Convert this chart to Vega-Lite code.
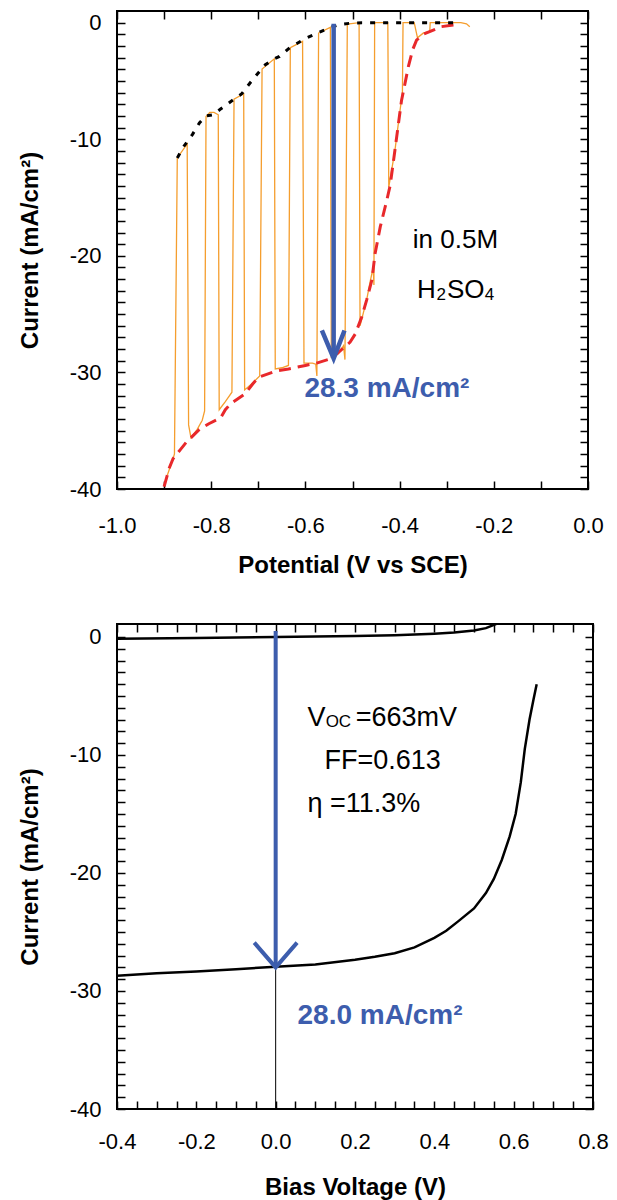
{
  "$schema": "https://vega.github.io/schema/vega-lite/v6.json",
  "padding": {"left": 17, "top": 9, "right": 0, "bottom": 0},
  "autosize": {"type": "pad"},
  "columns": 1,
  "align": "none",
  "spacing": 44,
  "config": {
    "font": "Liberation Sans",
    "view": {"stroke": "black", "strokeWidth": 2},
    "axis": {
      "domain": false, "grid": false, "tickColor": "black", "tickWidth": 1.5, "tickSize": -8,
      "labelFont": "Liberation Sans", "labelFontSize": 22, "labelColor": "black", "labelFlush": false, "labelOverlap": false,
      "titleFont": "Liberation Sans", "titleFontSize": 24, "titleFontWeight": "bold", "titleColor": "black"
    }
  },
  "datasets": {
    "orange": [
      {"v":-0.893,"j":-38.8},{"v":-0.881,"j":-37.4},{"v":-0.878,"j":-37.0},{"v":-0.872,"j":-11.6},{"v":-0.851,"j":-10.4},
      {"v":-0.848,"j":-34.5},{"v":-0.843,"j":-35.6},{"v":-0.830,"j":-34.9},{"v":-0.819,"j":-34.1},{"v":-0.814,"j":-33.3},
      {"v":-0.811,"j":-8.05},{"v":-0.803,"j":-7.7},{"v":-0.794,"j":-7.7},{"v":-0.785,"j":-7.9},
      {"v":-0.783,"j":-33.2},{"v":-0.770,"j":-32.5},{"v":-0.756,"j":-31.7},{"v":-0.7515,"j":-6.56},{"v":-0.731,"j":-6.1},
      {"v":-0.729,"j":-31.5},{"v":-0.712,"j":-30.9},{"v":-0.697,"j":-30.3},{"v":-0.692,"j":-3.97},{"v":-0.666,"j":-3.1},
      {"v":-0.664,"j":-29.7},{"v":-0.650,"j":-29.6},{"v":-0.636,"j":-29.4},{"v":-0.632,"j":-2.14},{"v":-0.606,"j":-1.6},
      {"v":-0.603,"j":-29.2},{"v":-0.585,"j":-29.2},{"v":-0.578,"j":-29.3},{"v":-0.5756,"j":-30.3},{"v":-0.572,"j":-0.89},{"v":-0.547,"j":-0.4},
      {"v":-0.545,"j":-28.7},{"v":-0.530,"j":-28.4},{"v":-0.519,"j":-27.7},{"v":-0.516,"j":-28.9},{"v":-0.511,"j":-0.12},{"v":-0.486,"j":0.0},
      {"v":-0.484,"j":-26.0},{"v":-0.470,"j":-23.8},{"v":-0.462,"j":-22.1},{"v":-0.456,"j":-21.0},{"v":-0.4545,"j":-22.5},{"v":-0.453,"j":0.0},{"v":-0.425,"j":0.0},
      {"v":-0.423,"j":-14.1},{"v":-0.410,"j":-11.0},{"v":-0.400,"j":-7.8},{"v":-0.394,"j":-6.0},{"v":-0.3927,"j":0.0},{"v":-0.369,"j":0.0},
      {"v":-0.362,"j":-1.3},{"v":-0.350,"j":-0.9},{"v":-0.336,"j":-0.75},{"v":-0.335,"j":0.0},{"v":-0.300,"j":0.0},{"v":-0.270,"j":0.0},{"v":-0.258,"j":-0.1},{"v":-0.251,"j":-0.35}
    ],
    "red": [
      {"v":-0.900,"j":-39.8},{"v":-0.889,"j":-38.2},{"v":-0.881,"j":-37.4},{"v":-0.865,"j":-36.6},{"v":-0.847,"j":-35.7},{"v":-0.843,"j":-35.6},
      {"v":-0.825,"j":-34.9},{"v":-0.805,"j":-34.4},{"v":-0.780,"j":-33.9},{"v":-0.770,"j":-33.2},{"v":-0.759,"j":-32.7},{"v":-0.727,"j":-31.8},
      {"v":-0.712,"j":-31.0},{"v":-0.699,"j":-30.4},{"v":-0.664,"j":-29.9},{"v":-0.636,"j":-29.7},{"v":-0.600,"j":-29.4},{"v":-0.576,"j":-29.2},
      {"v":-0.552,"j":-28.9},{"v":-0.540,"j":-28.65},{"v":-0.519,"j":-27.9},{"v":-0.505,"j":-27.4},{"v":-0.494,"j":-26.7},{"v":-0.480,"j":-25.2},
      {"v":-0.470,"j":-23.8},{"v":-0.459,"j":-22.1},{"v":-0.452,"j":-19.8},{"v":-0.441,"j":-17.5},{"v":-0.427,"j":-15.2},{"v":-0.420,"j":-13.96},
      {"v":-0.410,"j":-10.96},{"v":-0.396,"j":-6.7},{"v":-0.381,"j":-3.7},{"v":-0.372,"j":-2.3},{"v":-0.364,"j":-1.5},{"v":-0.350,"j":-1.0},
      {"v":-0.335,"j":-0.74},{"v":-0.311,"j":-0.34},{"v":-0.290,"j":-0.22},{"v":-0.275,"j":-0.17}
    ],
    "dot": [
      {"v":-0.872,"j":-11.6},{"v":-0.858,"j":-10.6},{"v":-0.840,"j":-9.6},{"v":-0.825,"j":-8.6},{"v":-0.811,"j":-8.0},{"v":-0.795,"j":-7.9},
      {"v":-0.780,"j":-7.4},{"v":-0.751,"j":-6.55},{"v":-0.735,"j":-6.1},{"v":-0.720,"j":-5.3},{"v":-0.706,"j":-4.6},{"v":-0.685,"j":-3.6},
      {"v":-0.666,"j":-3.1},{"v":-0.655,"j":-2.9},{"v":-0.632,"j":-2.1},{"v":-0.610,"j":-1.6},{"v":-0.597,"j":-1.3},{"v":-0.572,"j":-0.85},
      {"v":-0.547,"j":-0.4},{"v":-0.525,"j":-0.15},{"v":-0.505,"j":-0.05},{"v":-0.480,"j":0.0},{"v":-0.275,"j":0.0}
    ],
    "arrowTop": [
      {"p":"s","v":-0.540,"j":-0.1},{"p":"s","v":-0.540,"j":-28.6},
      {"p":"h","v":-0.565,"j":-26.4},{"p":"h","v":-0.540,"j":-28.8},{"p":"h","v":-0.517,"j":-26.4}
    ],
    "light": [
      {"v":-0.4,"j":-28.7},{"v":-0.3,"j":-28.5},{"v":-0.2,"j":-28.35},{"v":-0.1,"j":-28.15},{"v":0.0,"j":-27.95},{"v":0.1,"j":-27.75},
      {"v":0.2,"j":-27.35},{"v":0.25,"j":-27.1},{"v":0.3,"j":-26.8},{"v":0.35,"j":-26.3},{"v":0.4,"j":-25.5},{"v":0.43,"j":-24.9},
      {"v":0.46,"j":-24.1},{"v":0.5,"j":-23.0},{"v":0.53,"j":-21.7},{"v":0.55,"j":-20.5},{"v":0.57,"j":-18.9},{"v":0.59,"j":-16.9},
      {"v":0.605,"j":-15.0},{"v":0.618,"j":-12.3},{"v":0.628,"j":-9.5},{"v":0.64,"j":-7.0},{"v":0.65,"j":-5.3},{"v":0.658,"j":-4.0}
    ],
    "dark": [
      {"v":-0.4,"j":-0.15},{"v":-0.2,"j":-0.08},{"v":0.0,"j":0.0},{"v":0.2,"j":0.08},{"v":0.3,"j":0.15},{"v":0.4,"j":0.28},
      {"v":0.45,"j":0.38},{"v":0.5,"j":0.55},{"v":0.53,"j":0.75},{"v":0.56,"j":1.15}
    ],
    "arrowBot": [
      {"p":"s","v":0.0,"j":0.5},{"p":"s","v":0.0,"j":-27.8},
      {"p":"h","v":-0.054,"j":-25.9},{"p":"h","v":0.0,"j":-28.0},{"p":"h","v":0.054,"j":-25.9}
    ],
    "thin": [{"v":0.0,"j":-28.0},{"v":0.0,"j":-40.0}]
  },
  "concat": [
    {
      "width": 471, "height": 478,
      "resolve": {"axis": {"x": "independent", "y": "independent"}},
      "layer": [
        {
          "data": {"name": "orange"},
          "mark": {"type": "line", "color": "#F59E2E", "strokeWidth": 1.3, "clip": true},
          "encoding": {
            "x": {"field": "v", "type": "quantitative", "scale": {"domain": [-1, 0], "nice": false, "zero": false},
              "axis": {"orient": "bottom", "values": [-1,-0.9,-0.8,-0.7,-0.6,-0.5,-0.4,-0.3,-0.2,-0.1,0],
                "labelExpr": "abs(round(datum.value*10)) % 2 == 0 ? replace(format(datum.value, '.1f'), '−', '-') : ''",
                "labelPadding": 34, "titlePadding": 17}, "title": "Potential (V vs SCE)"},
            "y": {"field": "j", "type": "quantitative", "scale": {"domain": [-40, 1], "nice": false, "zero": false},
              "axis": {"orient": "left", "values": [-40,-39,-38,-37,-36,-35,-34,-33,-32,-31,-30,-29,-28,-27,-26,-25,-24,-23,-22,-21,-20,-19,-18,-17,-16,-15,-14,-13,-12,-11,-10,-9,-8,-7,-6,-5,-4,-3,-2,-1,0],
                "labelExpr": "datum.value % 10 == 0 ? '' + datum.value : ''", "labelPadding": 24, "titlePadding": 27}, "title": "Current (mA/cm²)"},
            "order": {"value": null}
          }
        },
        {
          "data": {"name": "red"},
          "mark": {"type": "line", "color": "#E8282B", "strokeWidth": 3, "strokeDash": [12, 7], "clip": true},
          "encoding": {
            "x": {"field": "v", "type": "quantitative", "scale": {"domain": [-1, 0], "nice": false, "zero": false},
              "axis": {"orient": "top", "labels": false, "title": null, "values": [-1,-0.9,-0.8,-0.7,-0.6,-0.5,-0.4,-0.3,-0.2,-0.1,0]}},
            "y": {"field": "j", "type": "quantitative", "scale": {"domain": [-40, 1], "nice": false, "zero": false},
              "axis": {"orient": "right", "labels": false, "title": null, "values": [-40,-39,-38,-37,-36,-35,-34,-33,-32,-31,-30,-29,-28,-27,-26,-25,-24,-23,-22,-21,-20,-19,-18,-17,-16,-15,-14,-13,-12,-11,-10,-9,-8,-7,-6,-5,-4,-3,-2,-1,0]}},
            "order": {"value": null}
          }
        },
        {
          "data": {"name": "dot"},
          "mark": {"type": "line", "color": "black", "strokeWidth": 3, "strokeDash": [5, 8], "clip": true},
          "encoding": {
            "x": {"field": "v", "type": "quantitative", "scale": {"domain": [-1, 0], "nice": false, "zero": false}, "axis": null},
            "y": {"field": "j", "type": "quantitative", "scale": {"domain": [-40, 1], "nice": false, "zero": false}, "axis": null},
            "order": {"value": null}
          }
        },
        {
          "data": {"name": "arrowTop"},
          "mark": {"type": "line", "color": "#3D5DAD", "strokeWidth": 4.5, "strokeCap": "butt"},
          "encoding": {
            "x": {"field": "v", "type": "quantitative", "scale": {"domain": [-1, 0], "nice": false, "zero": false}, "axis": null},
            "y": {"field": "j", "type": "quantitative", "scale": {"domain": [-40, 1], "nice": false, "zero": false}, "axis": null},
            "detail": {"field": "p"},
            "order": {"value": null}
          }
        },
        {
          "data": {"values": [{"v":-0.372,"j":-19.3,"t":"in 0.5M"},{"v":-0.363,"j":-23.6,"t":"H"},{"v":-0.2995,"j":-23.6,"t":"SO"}]},
          "mark": {"type": "text", "align": "left", "baseline": "alphabetic", "fontSize": 26, "color": "black"},
          "encoding": {
            "x": {"field": "v", "type": "quantitative", "scale": {"domain": [-1, 0], "nice": false, "zero": false}, "axis": null},
            "y": {"field": "j", "type": "quantitative", "scale": {"domain": [-40, 1], "nice": false, "zero": false}, "axis": null},
            "text": {"field": "t"}
          }
        },
        {
          "data": {"values": [{"v":-0.3217,"j":-23.6,"t":"2"},{"v":-0.219,"j":-23.6,"t":"4"}]},
          "mark": {"type": "text", "align": "left", "baseline": "alphabetic", "fontSize": 17, "dy": 2, "color": "black"},
          "encoding": {
            "x": {"field": "v", "type": "quantitative", "scale": {"domain": [-1, 0], "nice": false, "zero": false}, "axis": null},
            "y": {"field": "j", "type": "quantitative", "scale": {"domain": [-40, 1], "nice": false, "zero": false}, "axis": null},
            "text": {"field": "t"}
          }
        },
        {
          "data": {"values": [{"v":-0.427,"j":-32.1,"t":"28.3 mA/cm²"}]},
          "mark": {"type": "text", "align": "center", "baseline": "alphabetic", "fontSize": 28, "fontWeight": "bold", "color": "#3D5DAD"},
          "encoding": {
            "x": {"field": "v", "type": "quantitative", "scale": {"domain": [-1, 0], "nice": false, "zero": false}, "axis": null},
            "y": {"field": "j", "type": "quantitative", "scale": {"domain": [-40, 1], "nice": false, "zero": false}, "axis": null},
            "text": {"field": "t"}
          }
        }
      ]
    },
    {
      "width": 476, "height": 485,
      "resolve": {"axis": {"x": "independent", "y": "independent"}},
      "layer": [
        {
          "data": {"name": "light"},
          "mark": {"type": "line", "color": "black", "strokeWidth": 2.5, "clip": true},
          "encoding": {
            "x": {"field": "v", "type": "quantitative", "scale": {"domain": [-0.4, 0.8], "nice": false, "zero": false},
              "axis": {"orient": "bottom", "values": [-0.4,-0.35,-0.3,-0.25,-0.2,-0.15,-0.1,-0.05,0,0.05,0.1,0.15,0.2,0.25,0.3,0.35,0.4,0.45,0.5,0.55,0.6,0.65,0.7,0.75,0.8],
                "labelExpr": "abs(round(datum.value*20)) % 4 == 0 ? replace(format(datum.value, '.1f'), '−', '-') : ''",
                "labelPadding": 30, "titlePadding": 23}, "title": "Bias Voltage (V)"},
            "y": {"field": "j", "type": "quantitative", "scale": {"domain": [-40, 1.1], "nice": false, "zero": false},
              "axis": {"orient": "left", "values": [-40,-39,-38,-37,-36,-35,-34,-33,-32,-31,-30,-29,-28,-27,-26,-25,-24,-23,-22,-21,-20,-19,-18,-17,-16,-15,-14,-13,-12,-11,-10,-9,-8,-7,-6,-5,-4,-3,-2,-1,0],
                "labelExpr": "datum.value % 10 == 0 ? '' + datum.value : ''", "labelPadding": 24, "titlePadding": 27}, "title": "Current (mA/cm²)"},
            "order": {"value": null}
          }
        },
        {
          "data": {"name": "dark"},
          "mark": {"type": "line", "color": "black", "strokeWidth": 2.5, "clip": true},
          "encoding": {
            "x": {"field": "v", "type": "quantitative", "scale": {"domain": [-0.4, 0.8], "nice": false, "zero": false},
              "axis": {"orient": "top", "labels": false, "title": null, "values": [-0.4,-0.35,-0.3,-0.25,-0.2,-0.15,-0.1,-0.05,0,0.05,0.1,0.15,0.2,0.25,0.3,0.35,0.4,0.45,0.5,0.55,0.6,0.65,0.7,0.75,0.8]}},
            "y": {"field": "j", "type": "quantitative", "scale": {"domain": [-40, 1.1], "nice": false, "zero": false},
              "axis": {"orient": "right", "labels": false, "title": null, "values": [-40,-39,-38,-37,-36,-35,-34,-33,-32,-31,-30,-29,-28,-27,-26,-25,-24,-23,-22,-21,-20,-19,-18,-17,-16,-15,-14,-13,-12,-11,-10,-9,-8,-7,-6,-5,-4,-3,-2,-1,0]}},
            "order": {"value": null}
          }
        },
        {
          "data": {"name": "thin"},
          "mark": {"type": "line", "color": "black", "strokeWidth": 1},
          "encoding": {
            "x": {"field": "v", "type": "quantitative", "scale": {"domain": [-0.4, 0.8], "nice": false, "zero": false}, "axis": null},
            "y": {"field": "j", "type": "quantitative", "scale": {"domain": [-40, 1.1], "nice": false, "zero": false}, "axis": null},
            "order": {"value": null}
          }
        },
        {
          "data": {"name": "arrowBot"},
          "mark": {"type": "line", "color": "#3D5DAD", "strokeWidth": 4, "strokeCap": "butt"},
          "encoding": {
            "x": {"field": "v", "type": "quantitative", "scale": {"domain": [-0.4, 0.8], "nice": false, "zero": false}, "axis": null},
            "y": {"field": "j", "type": "quantitative", "scale": {"domain": [-40, 1.1], "nice": false, "zero": false}, "axis": null},
            "detail": {"field": "p"},
            "order": {"value": null}
          }
        },
        {
          "data": {"values": [{"v":0.080,"j":-7.52,"t":"V"},{"v":0.202,"j":-7.52,"t":"=663mV"},{"v":0.123,"j":-11.19,"t":"FF=0.613"},{"v":0.080,"j":-14.86,"t":"η =11.3%"}]},
          "mark": {"type": "text", "align": "left", "baseline": "alphabetic", "fontSize": 27, "color": "black"},
          "encoding": {
            "x": {"field": "v", "type": "quantitative", "scale": {"domain": [-0.4, 0.8], "nice": false, "zero": false}, "axis": null},
            "y": {"field": "j", "type": "quantitative", "scale": {"domain": [-40, 1.1], "nice": false, "zero": false}, "axis": null},
            "text": {"field": "t"}
          }
        },
        {
          "data": {"values": [{"v":0.126,"j":-7.52,"t":"OC"}]},
          "mark": {"type": "text", "align": "left", "baseline": "alphabetic", "fontSize": 17, "dy": 1, "color": "black"},
          "encoding": {
            "x": {"field": "v", "type": "quantitative", "scale": {"domain": [-0.4, 0.8], "nice": false, "zero": false}, "axis": null},
            "y": {"field": "j", "type": "quantitative", "scale": {"domain": [-40, 1.1], "nice": false, "zero": false}, "axis": null},
            "text": {"field": "t"}
          }
        },
        {
          "data": {"values": [{"v":0.263,"j":-32.8,"t":"28.0 mA/cm²"}]},
          "mark": {"type": "text", "align": "center", "baseline": "alphabetic", "fontSize": 28, "fontWeight": "bold", "color": "#3D5DAD"},
          "encoding": {
            "x": {"field": "v", "type": "quantitative", "scale": {"domain": [-0.4, 0.8], "nice": false, "zero": false}, "axis": null},
            "y": {"field": "j", "type": "quantitative", "scale": {"domain": [-40, 1.1], "nice": false, "zero": false}, "axis": null},
            "text": {"field": "t"}
          }
        }
      ]
    }
  ]
}
